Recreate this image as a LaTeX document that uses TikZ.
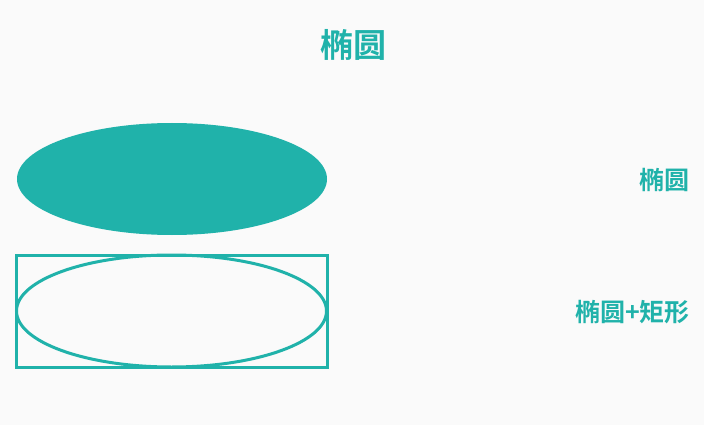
\documentclass[tikz,border=0pt]{standalone}
\usepackage{fontspec}
\newfontfamily\cjk{Noto Sans CJK SC}[BoldFont={* Bold}]
\definecolor{teal1}{HTML}{20B2AA}
\definecolor{bgc}{HTML}{FAFAFA}
\begin{document}
\begin{tikzpicture}[x=1pt,y=-1pt,
  lbl/.style={text=teal1,font=\cjk\bfseries\fontsize{25}{27}\selectfont,inner sep=0pt},
  shapeline/.style={draw=teal1,line width=3pt}]
\fill[bgc] (0,0) rectangle (704,425);
\useasboundingbox (0,0) rectangle (704,425);
\node[lbl,font=\cjk\bfseries\fontsize{33}{35}\selectfont] (title) at (353,45) {椭圆};
\fill[teal1] (172,179) ellipse [x radius=155, y radius=56];
\coordinate (e1) at (172,179);
\draw[shapeline] (16,255) rectangle (327,367);
\draw[shapeline] (171.5,311) ellipse [x radius=155, y radius=56];
\node[lbl,anchor=east] (l1) at (690,180) {椭圆};
\node[lbl,anchor=east] (l2) at (690,312) {椭圆+矩形};
\end{tikzpicture}
\end{document}
